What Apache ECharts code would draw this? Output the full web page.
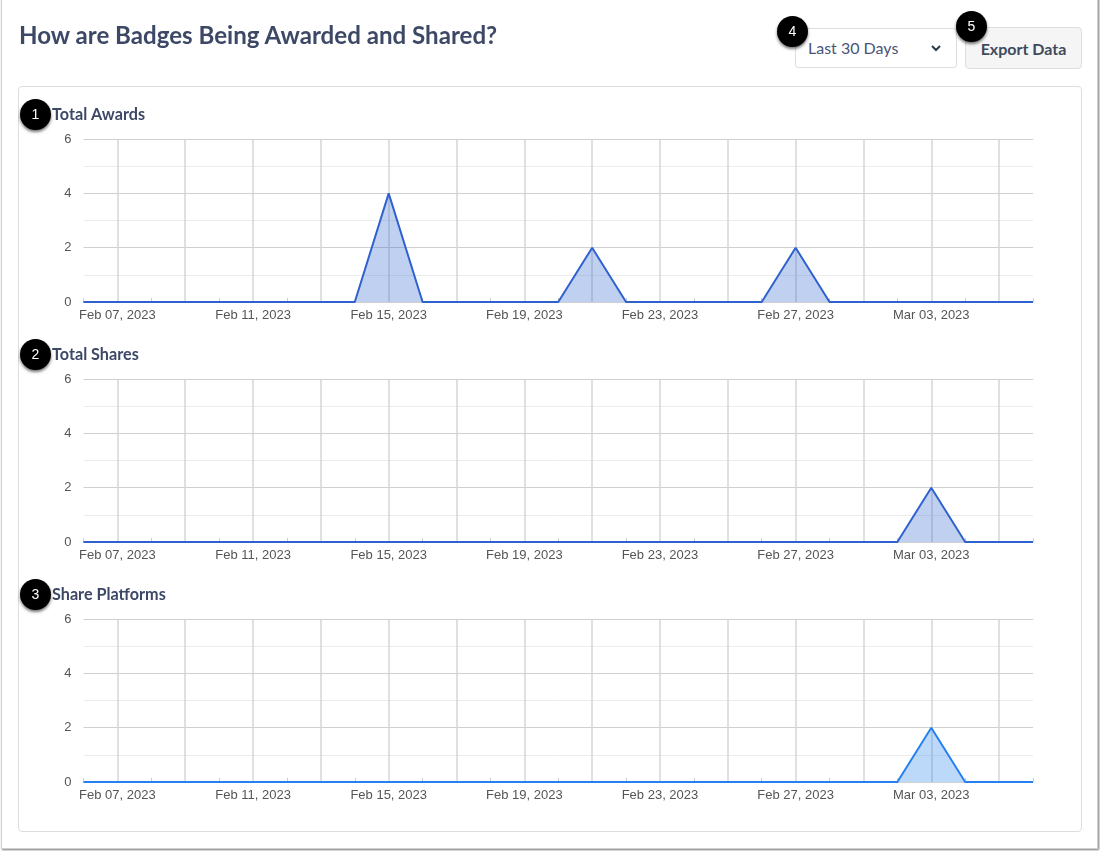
<!DOCTYPE html>
<html>
<head>
<meta charset="utf-8">
<script src="https://cdn.jsdelivr.net/npm/echarts@6/dist/echarts.min.js"></script>
<style>
  html, body { margin: 0; padding: 0; background: #fff; }
  #page { position: relative; width: 1100px; height: 851px; overflow: hidden; font-family: Lato, sans-serif; }
  #sheet { position: absolute; left: 1px; top: -2px; width: 1095px; height: 849px; border: 1px solid #cfcfcf; background: #fff; box-shadow: 1px 1px 2px #777; }
  #panel { position: absolute; left: 18px; top: 86px; width: 1062px; height: 744px; border: 1px solid #dcdee2; border-radius: 4px; }
  #chart { position: absolute; left: 0; top: 0; width: 1100px; height: 851px; }
  h1 { position: absolute; left: 19px; top: 20px; margin: 0; font-size: 24.1px; line-height: 30px; font-weight: 700; color: #3d4866; }
  #range { position: absolute; left: 795px; top: 28px; width: 160px; height: 38px; border: 1px solid #dcdee2; border-radius: 3px; font-size: 16px; line-height: 38px; color: #4a5478; background: #fff; }
  #range span { margin-left: 12px; }
  #range svg { position: absolute; left: 134px; top: 15px; }
  #export { position: absolute; left: 965px; top: 27px; width: 115px; height: 40px; border: 1px solid #dcdee2; border-radius: 4px; background: #f5f5f5; font-size: 16px; font-weight: 700; line-height: 42px; text-align: center; color: #3f4a5c; }
  .badge { position: absolute; width: 31px; height: 31px; border-radius: 50%; background: #000; color: #fff; font: 14px/30px "Liberation Sans", sans-serif; text-align: center; box-shadow: 0 2px 3px rgba(0,0,0,.55); z-index: 3; }
</style>
</head>
<body>
<div id="page">
  <div id="sheet"></div>
  <div id="panel"></div>
  <div id="chart"></div>
  <h1>How are Badges Being Awarded and Shared?</h1>
  <div id="range"><span>Last 30 Days</span><svg width="12" height="9" viewBox="0 0 12 9"><polyline points="2,2 6,6 10,2" fill="none" stroke="#2d3b45" stroke-width="2"/></svg></div>
  <div id="export">Export Data</div>
  <div class="badge" style="left:20px;top:99px">1</div>
  <div class="badge" style="left:20px;top:339px">2</div>
  <div class="badge" style="left:20px;top:579px">3</div>
  <div class="badge" style="left:777px;top:16px">4</div>
  <div class="badge" style="left:956px;top:11px">5</div>
</div>
<script>
// 日期（横轴）
const categories = [
  'Feb 06, 2023','Feb 07, 2023','Feb 08, 2023','Feb 09, 2023','Feb 10, 2023','Feb 11, 2023',
  'Feb 12, 2023','Feb 13, 2023','Feb 14, 2023','Feb 15, 2023','Feb 16, 2023','Feb 17, 2023',
  'Feb 18, 2023','Feb 19, 2023','Feb 20, 2023','Feb 21, 2023','Feb 22, 2023','Feb 23, 2023',
  'Feb 24, 2023','Feb 25, 2023','Feb 26, 2023','Feb 27, 2023','Feb 28, 2023','Mar 01, 2023',
  'Mar 02, 2023','Mar 03, 2023','Mar 04, 2023','Mar 05, 2023','Mar 06, 2023'
];
const totalAwards = [0,0,0,0,0,0,0,0,0,4,0,0,0,0,0,2,0,0,0,0,0,2,0,0,0,0,0,0,0];
const totalShares = [0,0,0,0,0,0,0,0,0,0,0,0,0,0,0,0,0,0,0,0,0,0,0,0,0,2,0,0,0];
const sharePlatforms = [0,0,0,0,0,0,0,0,0,0,0,0,0,0,0,0,0,0,0,0,0,0,0,0,0,2,0,0,0];
const chartTitles = ['Total Awards', 'Total Shares', 'Share Platforms'];
const seriesColors = ['#2f62cf', '#2f62cf', '#2580f0'];
const gridTops = [139, 379, 619];

const allValues = [totalAwards, totalShares, sharePlatforms];
const axisFont = { fontFamily: 'Liberation Sans', fontSize: 13, color: '#555' };

let chart = echarts.init(document.getElementById('chart'), null, { renderer: 'canvas' });
chart.setOption({
  animation: false,
  title: chartTitles.map((t, i) => ({
    text: t,
    left: 52,
    top: gridTops[i] - 32,
    padding: 0,
    textStyle: { fontFamily: 'Lato', fontWeight: 700, fontSize: 16.2, color: '#3d4866' }
  })),
  grid: gridTops.map(top => ({ left: 83.5, top: top, width: 949.5, height: 163 })),
  xAxis: gridTops.map((_, i) => ({
    type: 'category',
    gridIndex: i,
    data: categories,
    boundaryGap: false,
    axisLine: { show: false },
    axisTick: { show: true, inside: true, length: 4, interval: idx => idx % 2 === 0, lineStyle: { color: '#ccc' } },
    axisLabel: Object.assign({ interval: idx => idx % 4 === 1, margin: 7, hideOverlap: false }, axisFont),
    splitLine: { show: true, interval: idx => idx % 2 === 1, lineStyle: { color: '#d6d6d6', width: 1.5 } }
  })),
  yAxis: gridTops.map((_, i) => ({
    type: 'value',
    gridIndex: i,
    min: 0,
    max: 6,
    interval: 2,
    axisLine: { show: false },
    axisTick: { show: false },
    axisLabel: Object.assign({ margin: 12, padding: [2, 0, 0, 0] }, axisFont),
    splitLine: { lineStyle: { color: '#d0d0d0', width: 1.2 } },
    minorTick: { show: false, splitNumber: 2 },
    minorSplitLine: { show: true, lineStyle: { color: '#ececec', width: 1 } }
  })),
  series: allValues.map((values, i) => ({
    type: 'line',
    name: chartTitles[i],
    xAxisIndex: i,
    yAxisIndex: i,
    data: values,
    symbol: 'none',
    lineStyle: { color: seriesColors[i], width: 2 },
    itemStyle: { color: seriesColors[i] },
    areaStyle: { color: seriesColors[i], opacity: 0.3 }
  }))
});
</script>
</body>
</html>
